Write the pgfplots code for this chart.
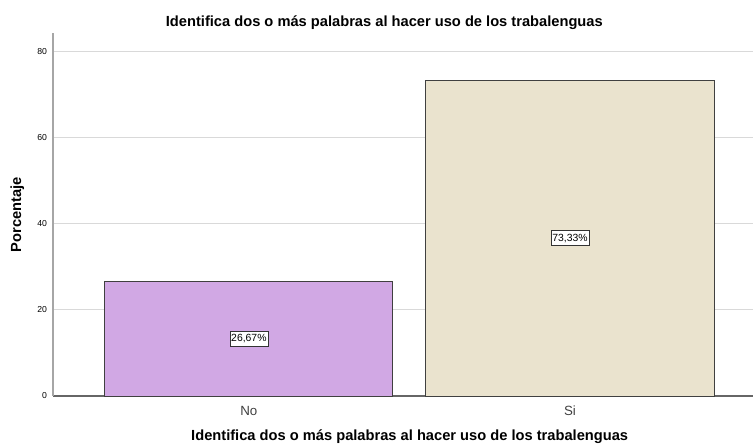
\documentclass[border=0pt]{standalone}
\usepackage{pgfplots}
\pgfplotsset{compat=1.18}
\usepackage{fontspec}
\setmainfont{Liberation Sans}

\definecolor{barNo}{RGB}{209,168,228}
\definecolor{barSi}{RGB}{234,227,206}
\definecolor{edge}{RGB}{64,64,64}

\begin{document}
\begin{tikzpicture}
\begin{axis}[
    at={(0,0)}, anchor=south west,
    scale only axis,
    width=525pt, height=272pt,
    xmin=-0.61, xmax=1.57,
    ymin=0, ymax=84.2,
    xtick={0,1}, xticklabels={No,Si},
    ytick={0,20,40,60,80},
    axis x line*=bottom, axis y line*=left,
    x axis line style={draw=gray!80!black, line width=0.8pt, -},
    y axis line style={draw=gray!70, line width=0.8pt, -},
    major tick length=0pt,
    ymajorgrids,
    grid style={draw=gray!30, line width=0.8pt},
    xticklabel style={font=\fontsize{10}{11}\selectfont, text=black!75, yshift=-4pt},
    yticklabel style={font=\fontsize{6.5}{7}\selectfont, xshift=-1pt},
    /pgf/number format/assume math mode=true,
    title={\bfseries Identifica dos o más palabras al hacer uso de los trabalenguas},
    title style={font=\fontsize{11}{12}\selectfont, at={(axis description cs:0.5,1)}, anchor=base, yshift=-1pt, xshift=-14pt},
    xlabel={\bfseries Identifica dos o más palabras al hacer uso de los trabalenguas},
    xlabel style={font=\fontsize{11}{12}\selectfont, at={(axis description cs:0.5,0)}, anchor=base, yshift=-33.5pt, xshift=5pt},
    ylabel={\bfseries Porcentaje},
    ylabel style={font=\fontsize{11}{12}\selectfont, yshift=3pt},
    ybar, bar width=0.897, bar shift=0pt,
    clip=false,
]
\addplot[draw=edge, fill=barNo, line width=0.7pt] coordinates {(0,26.67)};
\addplot[draw=edge, fill=barSi, line width=0.7pt] coordinates {(1,73.33)};
\node[draw=black!80, fill=white, inner xsep=1pt, inner ysep=2.5pt, line width=0.4pt, font=\fontsize{7.8}{8}\selectfont] at (axis cs:0,13.33) {26,67\%};
\node[draw=black!80, fill=white, inner xsep=1pt, inner ysep=2.5pt, line width=0.4pt, font=\fontsize{7.8}{8}\selectfont] at (axis cs:1,36.67) {73,33\%};
\end{axis}
\pgfresetboundingbox
\path (-39.75pt,-36.75pt) rectangle (525pt,297pt);
\end{tikzpicture}
\end{document}
